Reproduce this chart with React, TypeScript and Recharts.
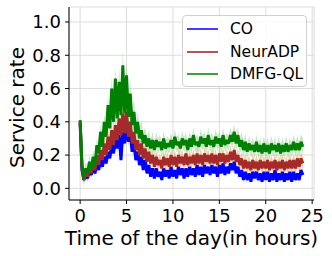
import React from 'react';
import { ComposedChart, Line, Area, XAxis, YAxis, CartesianGrid, Legend } from 'recharts';

// one sample every 0.2 h, from 0 to 24
const STEP = 0.2;

// service rate per sample (5 samples per hour)
const CO = [
  0.39, 0.11, 0.05, 0.09, 0.06, 0.11, 0.08, 0.13, 0.09, 0.15,
  0.11, 0.17, 0.13, 0.19, 0.15, 0.22, 0.18, 0.26, 0.21, 0.29,
  0.24, 0.32, 0.17, 0.34, 0.27, 0.37, 0.28, 0.33, 0.22, 0.27,
  0.17, 0.22, 0.14, 0.19, 0.11, 0.17, 0.09, 0.14, 0.07, 0.12,
  0.06, 0.12, 0.07, 0.10, 0.05, 0.12, 0.07, 0.11, 0.06, 0.13,
  0.07, 0.11, 0.06, 0.13, 0.08, 0.12, 0.06, 0.12, 0.07, 0.13,
  0.08, 0.12, 0.07, 0.14, 0.08, 0.13, 0.07, 0.14, 0.09, 0.13,
  0.08, 0.14, 0.09, 0.13, 0.07, 0.14, 0.09, 0.15, 0.08, 0.13,
  0.09, 0.15, 0.11, 0.16, 0.09, 0.13, 0.07, 0.11, 0.05, 0.10,
  0.05, 0.09, 0.04, 0.10, 0.06, 0.10, 0.05, 0.09, 0.04, 0.10,
  0.05, 0.10, 0.04, 0.09, 0.05, 0.11, 0.04, 0.09, 0.05, 0.10,
  0.04, 0.09, 0.05, 0.10, 0.04, 0.10, 0.05, 0.09, 0.05, 0.11,
  0.08,
];

const NEURADP = [
  0.40, 0.12, 0.05, 0.10, 0.07, 0.13, 0.09, 0.16, 0.11, 0.20,
  0.14, 0.23, 0.17, 0.27, 0.20, 0.31, 0.23, 0.35, 0.26, 0.38,
  0.29, 0.42, 0.32, 0.45, 0.33, 0.46, 0.31, 0.40, 0.27, 0.34,
  0.23, 0.29, 0.20, 0.27, 0.18, 0.24, 0.16, 0.22, 0.15, 0.20,
  0.13, 0.19, 0.14, 0.17, 0.12, 0.19, 0.14, 0.18, 0.13, 0.20,
  0.14, 0.19, 0.13, 0.20, 0.15, 0.19, 0.14, 0.21, 0.14, 0.19,
  0.15, 0.20, 0.14, 0.21, 0.15, 0.20, 0.14, 0.21, 0.16, 0.20,
  0.15, 0.21, 0.15, 0.20, 0.14, 0.21, 0.16, 0.21, 0.15, 0.20,
  0.16, 0.22, 0.17, 0.23, 0.16, 0.20, 0.14, 0.18, 0.12, 0.17,
  0.12, 0.16, 0.11, 0.17, 0.12, 0.16, 0.11, 0.17, 0.12, 0.16,
  0.12, 0.17, 0.11, 0.16, 0.12, 0.17, 0.11, 0.16, 0.12, 0.17,
  0.11, 0.16, 0.12, 0.17, 0.12, 0.17, 0.12, 0.18, 0.13, 0.18,
  0.15,
];

const DMFG_QL = [
  0.41, 0.14, 0.06, 0.12, 0.09, 0.16, 0.11, 0.19, 0.14, 0.26,
  0.21, 0.34, 0.25, 0.40, 0.31, 0.50, 0.36, 0.60, 0.40, 0.66,
  0.42, 0.64, 0.44, 0.74, 0.45, 0.68, 0.43, 0.57, 0.38, 0.46,
  0.33, 0.40, 0.30, 0.35, 0.27, 0.32, 0.25, 0.30, 0.24, 0.29,
  0.23, 0.29, 0.25, 0.28, 0.23, 0.30, 0.24, 0.27, 0.25, 0.29,
  0.24, 0.31, 0.26, 0.28, 0.24, 0.30, 0.26, 0.29, 0.23, 0.30,
  0.25, 0.32, 0.26, 0.28, 0.25, 0.31, 0.27, 0.30, 0.25, 0.32,
  0.26, 0.29, 0.25, 0.31, 0.27, 0.30, 0.25, 0.32, 0.26, 0.29,
  0.27, 0.32, 0.28, 0.34, 0.27, 0.32, 0.25, 0.29, 0.23, 0.28,
  0.22, 0.27, 0.23, 0.26, 0.22, 0.28, 0.22, 0.26, 0.21, 0.27,
  0.22, 0.26, 0.21, 0.27, 0.23, 0.26, 0.22, 0.27, 0.21, 0.26,
  0.22, 0.27, 0.22, 0.26, 0.23, 0.28, 0.23, 0.27, 0.23, 0.28,
  0.25,
];

// half width of the shaded band, one value per hour (0..24)
const CO_SPREAD = [0.02, 0.02, 0.02, 0.02, 0.03, 0.03, 0.02, 0.02, 0.02, 0.02, 0.02, 0.02, 0.02, 0.02, 0.02, 0.02, 0.02, 0.02, 0.02, 0.02, 0.02, 0.02, 0.02, 0.02, 0.02];
const NEURADP_SPREAD = [0.03, 0.03, 0.04, 0.05, 0.05, 0.05, 0.05, 0.04, 0.04, 0.04, 0.04, 0.04, 0.04, 0.04, 0.04, 0.04, 0.04, 0.04, 0.04, 0.04, 0.04, 0.04, 0.04, 0.04, 0.04];
const DMFG_QL_SPREAD = [0.04, 0.04, 0.05, 0.07, 0.09, 0.08, 0.06, 0.05, 0.045, 0.045, 0.045, 0.045, 0.045, 0.045, 0.045, 0.045, 0.045, 0.05, 0.045, 0.045, 0.045, 0.045, 0.045, 0.045, 0.05];

const X_TICKS = [0, 5, 10, 15, 20, 25];
const Y_TICKS = [0, 0.2, 0.4, 0.6, 0.8, 1.0];

const SERIES = [
  { key: 'co', name: 'CO', color: '#0000ff', legend: '#3f3fff' },
  { key: 'neur', name: 'NeurADP', color: '#a52a2a', legend: '#b75454' },
  { key: 'dmfg', name: 'DMFG-QL', color: '#008000', legend: '#3f9f3f' },
];

const band = (v: number, s: number) => [v - s, v + s];

const data = CO.map((v, i) => {
  const t = Math.round(i * STEP * 10) / 10;
  const h = Math.floor(t);
  return {
    t,
    co: v,
    neur: NEURADP[i],
    dmfg: DMFG_QL[i],
    coBand: band(v, CO_SPREAD[h]),
    neurBand: band(NEURADP[i], NEURADP_SPREAD[h]),
    dmfgBand: band(DMFG_QL[i], DMFG_QL_SPREAD[h]),
  };
});

const FONT = '"DejaVu Sans", sans-serif';

const LegendBox = () => (
  <div
    style={{
      width: 125,
      height: 72,
      border: '1px solid #d0d0d0',
      borderRadius: 4,
      background: 'rgba(255,255,255,0.85)',
      fontFamily: FONT,
      fontSize: 15.5,
      color: '#000',
      boxSizing: 'border-box',
      paddingTop: 2,
    }}
  >
    {SERIES.map((s) => (
      <div key={s.key} style={{ display: 'flex', alignItems: 'center', height: 22.5 }}>
        <div style={{ width: 31, height: 2, background: s.legend, marginLeft: 4, marginRight: 12 }} />
        <span>{s.name}</span>
      </div>
    ))}
  </div>
);

const App: React.FC = () => {
  return (
    <div style={{ position: 'fixed', left: 0, top: 0, width: 332, height: 256, background: '#fff' }}>
      <ComposedChart width={332} height={256} data={data} margin={{ top: 7, right: 18, bottom: 0, left: 0 }}>
        <CartesianGrid xAxisId="b" yAxisId="l" stroke="#dddddd" strokeWidth={1} />
        <XAxis
          xAxisId="b"
          dataKey="t"
          type="number"
          domain={[-1.2, 25.2]}
          ticks={X_TICKS}
          interval={0}
          allowDataOverflow
          height={56}
          tickSize={4}
          tickMargin={5}
          stroke="#000"
          tick={{ fill: '#000', fontSize: 18, fontFamily: FONT }}
          label={{ value: 'Time of the day(in hours)', position: 'insideBottom', offset: 11, fill: '#000', fontSize: 20, fontFamily: FONT }}
        />
        <XAxis xAxisId="top" orientation="top" dataKey="t" type="number" domain={[-1.2, 25.2]} ticks={X_TICKS} height={0} tick={false} tickLine={false} stroke="#000" />
        <YAxis
          yAxisId="l"
          type="number"
          domain={[-0.07, 1.09]}
          ticks={Y_TICKS}
          interval={0}
          allowDataOverflow
          width={69}
          tickSize={4}
          tickMargin={4}
          stroke="#000"
          tickFormatter={(v: number) => v.toFixed(1)}
          tick={{ fill: '#000', fontSize: 18, fontFamily: FONT }}
          label={{ value: 'Service rate', angle: -90, position: 'center', dx: -18, dy: 4, fill: '#000', fontSize: 20, fontFamily: FONT }}
        />
        <YAxis yAxisId="r" orientation="right" type="number" domain={[-0.07, 1.09]} ticks={Y_TICKS} width={0} tick={false} tickLine={false} stroke="#000" />
        <Area xAxisId="b" yAxisId="l" type="linear" dataKey="coBand" stroke="none" fill="#8ab8f0" fillOpacity={0.3} isAnimationActive={false} />
        <Area xAxisId="b" yAxisId="l" type="linear" dataKey="neurBand" stroke="none" fill="#f4a460" fillOpacity={0.6} isAnimationActive={false} />
        <Area xAxisId="b" yAxisId="l" type="linear" dataKey="dmfgBand" stroke="none" fill="#8fd18f" fillOpacity={0.5} isAnimationActive={false} />
        {SERIES.map((s) => (
          <Line
            key={s.key}
            xAxisId="b"
            yAxisId="l"
            type="linear"
            dataKey={s.key}
            name={s.name}
            stroke={s.color}
            strokeWidth={3}
            strokeLinejoin="bevel"
            dot={false}
            isAnimationActive={false}
          />
        ))}
        <Legend
          layout="horizontal"
          verticalAlign="middle"
          align="center"
          wrapperStyle={{ position: 'absolute', left: 182, top: 15, width: 'auto', height: 'auto' }}
          content={() => <LegendBox />}
        />
      </ComposedChart>
    </div>
  );
};

export default App;
